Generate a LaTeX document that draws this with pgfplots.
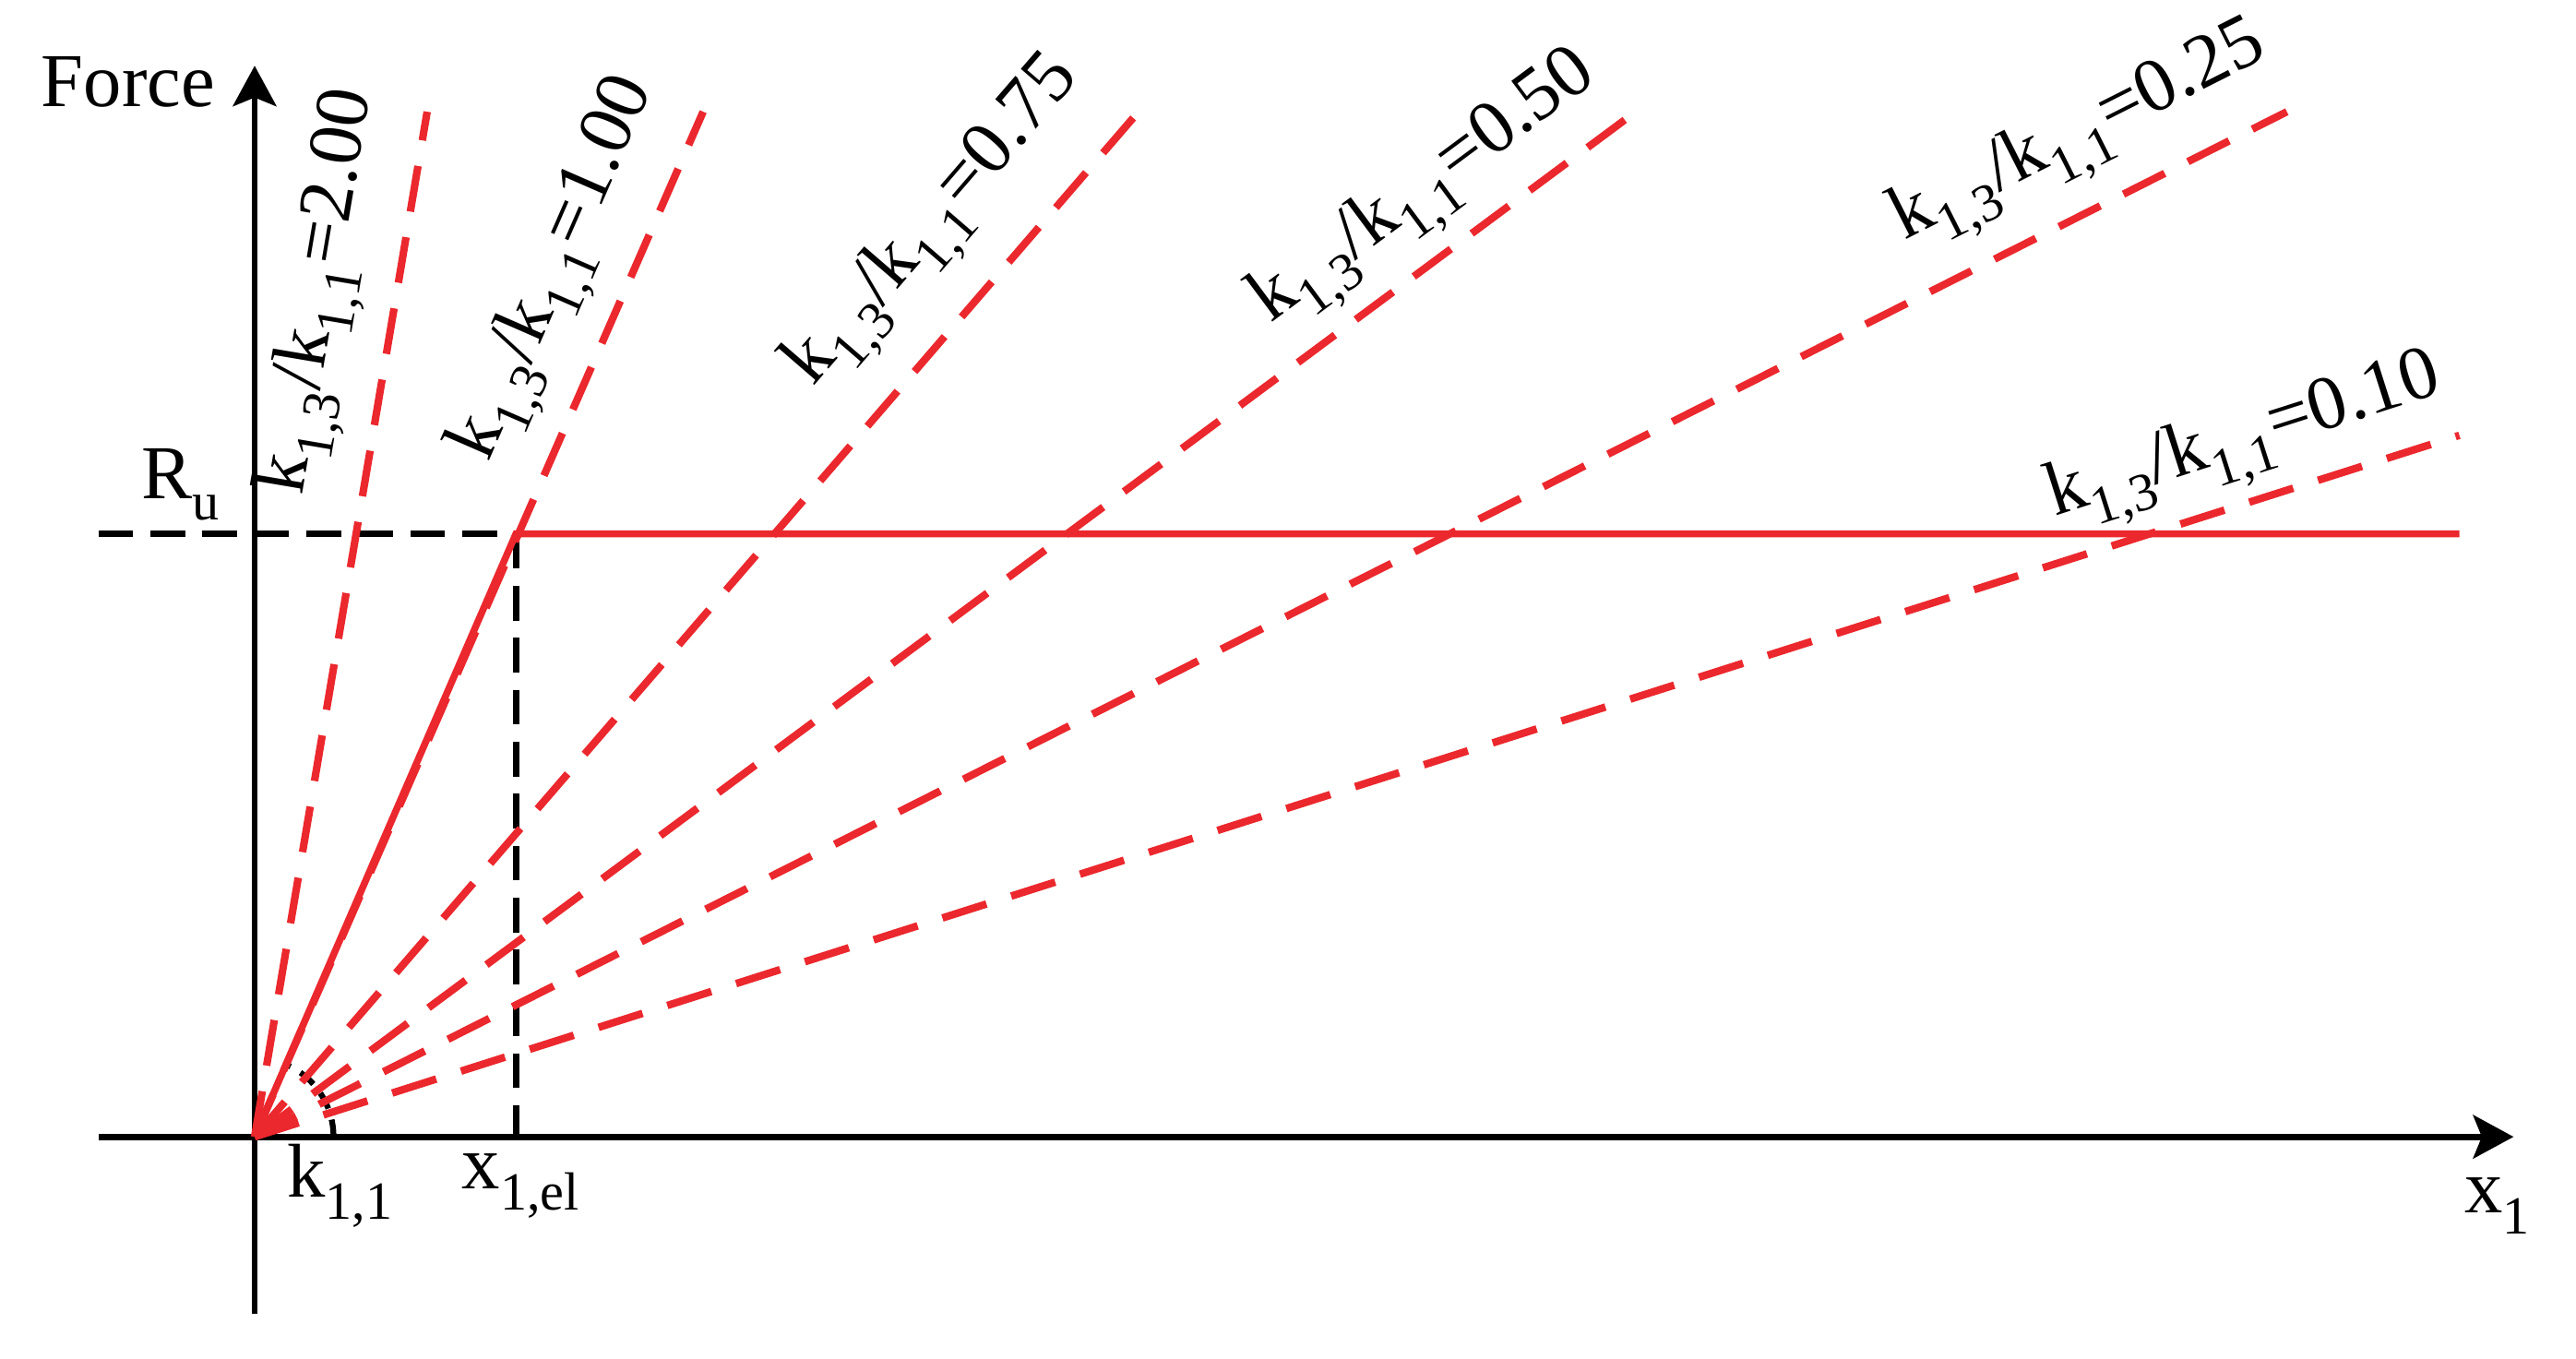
\documentclass[border=0pt]{standalone}
\usepackage{fontspec}
\setmainfont{Liberation Serif}
\usepackage{pgfplots}
\pgfplotsset{compat=1.18}
\usetikzlibrary{arrows.meta}
\definecolor{lred}{RGB}{235,40,45}
\newcommand{\sub}[1]{\raisebox{-3.8pt}{\fontsize{9.3}{11}\selectfont #1}}
\newcommand{\kk}[1]{k\sub{1,3}/k\sub{1,1}=#1}
\tikzset{
  lbl/.style={font=\fontsize{13.2}{15}\selectfont, inner sep=0pt},
  refline/.style={black, line width=1.1pt, dash pattern=on 6pt off 3pt},
  kline/.style={lred, line width=1.3pt, dash pattern=on 8pt off 4.5pt},
}

\begin{document}
\begin{tikzpicture}
\begin{axis}[
  width=14.7cm, height=7.6cm, scale only axis,
  xmin=-95, xmax=1375, ymin=-108, ymax=652,
  axis lines=middle,
  axis line style={line width=1.1pt, -{Stealth[length=7pt, width=7.5pt, inset=1.5pt]}},
  ticks=none,
  clip=false,
]
% margin round the drawing
\path (axis cs:-155,-135) rectangle (axis cs:1413,692);

% R_u and x_1,el guides
\addplot[refline] coordinates {(-95,367) (159,367)};
\addplot[refline] coordinates {(159,367) (159,0)};
\draw[black, line width=1pt, dash pattern=on 3pt off 2pt]
  (axis cs:48,0) arc[start angle=0, end angle=67, radius=0.48cm];

% k13/k11 lines
\addplot[kline] coordinates {(0,0) (105,624)};
\addplot[kline] coordinates {(0,0) (273,624)};
\addplot[kline] coordinates {(0,0) (538,624)};
\addplot[kline] coordinates {(0,0) (838,622)};
\addplot[kline] coordinates {(0,0) (1237,624)};
\addplot[kline] coordinates {(0,0) (1342,427)};

% elastic-plastic response
\addplot[lred, line width=1.2pt] coordinates {(0,0) (159,367) (1342,367)};

% labels
\node[lbl] at (axis cs:-77,642) {Force};
\node[lbl] at (axis cs:-45,397) {R\sub{u}};
\node[lbl] at (axis cs:52,-30) {k\sub{1,1}};
\node[lbl] at (axis cs:162,-30) {x\sub{1,el}};
\node[lbl] at (axis cs:1365,-42) {x\sub{1}};

\node[lbl, rotate=80.4] at (axis cs:43,514) {\kk{2.00}};
\node[lbl, rotate=66.4] at (axis cs:186,527) {\kk{1.00}};
\node[lbl, rotate=49.2] at (axis cs:416,555) {\kk{0.75}};
\node[lbl, rotate=36.6] at (axis cs:714,575) {\kk{0.50}};
\node[lbl, rotate=26.8] at (axis cs:1112,608) {\kk{0.25}};
\node[lbl, rotate=17.7] at (axis cs:1212,422) {\kk{0.10}};
\end{axis}
\end{tikzpicture}
\end{document}
